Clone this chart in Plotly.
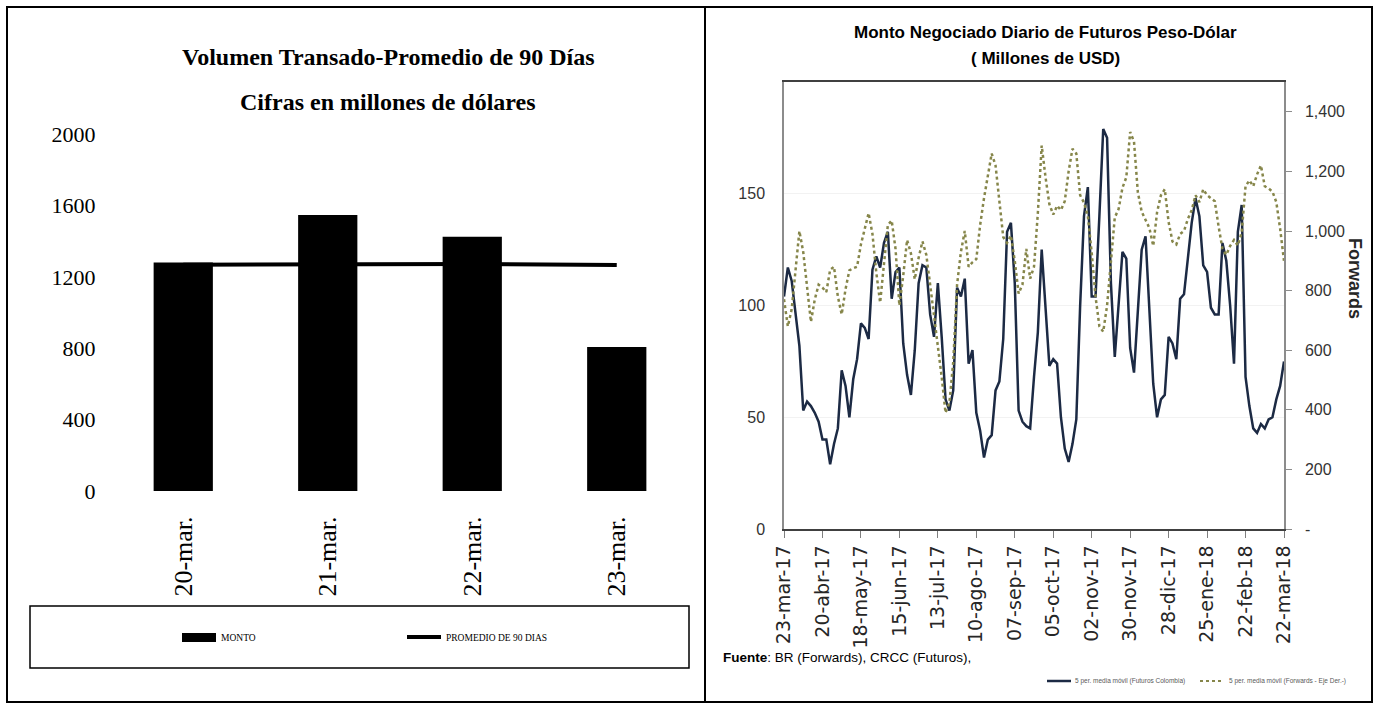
import pandas as pd
import plotly.graph_objects as go

W, H = 1378, 707

# ---- left chart data ----
dias = ["20-mar.", "21-mar.", "22-mar.", "23-mar."]
monto = [1280, 1546, 1425, 807]
promedio_90 = [1268, 1270, 1272, 1266]

# ---- right chart data (every 2nd business day, 23-mar-17 .. 22-mar-18) ----
futuros = [104, 117, 111, 95, 82, 53, 57, 55, 52, 48,
           40, 40, 29, 38, 45, 71, 64, 50, 67, 76,
           92, 90, 85, 116, 122, 117, 128, 133, 103, 115,
           117, 83, 69, 60, 80, 110, 118, 117, 96, 86,
           110, 86, 58, 53, 62, 108, 104, 112, 74, 80,
           52, 44, 32, 40, 42, 62, 66, 85, 133, 137,
           110, 53, 48, 46, 45, 68, 88, 125, 100, 73,
           76, 74, 50, 36, 30, 38, 49, 100, 140, 153,
           104, 104, 140, 179, 175, 110, 77, 103, 124, 121,
           81, 70, 100, 125, 131, 95, 65, 50, 58, 60,
           86, 83, 76, 103, 105, 121, 137, 148, 140, 118,
           115, 99, 96, 96, 128, 120, 100, 74, 133, 145,
           68, 55, 45, 43, 47, 45, 49, 50, 58, 64,
           75]
forwards = [771, 680, 737, 880, 1000, 930, 810, 695, 770, 820,
            810, 795, 870, 880, 780, 720, 805, 868, 875, 880,
            955, 1005, 1060, 990, 860, 760, 880, 1020, 1035, 940,
            750, 850, 970, 925, 838, 910, 965, 920, 820, 720,
            620, 510, 390, 423, 560, 820, 930, 1000, 880, 895,
            906, 1020, 1110, 1190, 1260, 1220, 1110, 980, 960, 985,
            900, 790, 820, 940, 840, 880, 1060, 1287, 1180, 1090,
            1055, 1085, 1070, 1100, 1200, 1276, 1260, 1120, 1095, 1050,
            928, 780, 680, 662, 750, 900, 1045, 1074, 1145, 1180,
            1332, 1300, 1130, 1065, 1038, 1010, 950, 1063, 1120, 1140,
            1030, 965, 955, 990, 1000, 1040, 1070, 1120, 1097, 1140,
            1120, 1110, 1100, 1015, 940, 920, 950, 970, 951, 996,
            1150, 1170, 1150, 1190, 1220, 1150, 1143, 1132, 1097, 1007,
            900]
meses = ["ene", "feb", "mar", "abr", "may", "jun",
         "jul", "ago", "sep", "oct", "nov", "dic"]
fwd_ticks = [0, 200, 400, 600, 800, 1000, 1200, 1400]
fwd_ticktext = ["-", "200", "400", "600", "800", "1,000", "1,200", "1,400"]

fechas = pd.bdate_range("2017-03-23", "2018-03-22")[::2]
x_fechas = [d.strftime("%Y-%m-%d") for d in fechas]
tick_idx = list(range(0, len(x_fechas), 10))
tick_text = [f"{fechas[i].day:02d}-{meses[fechas[i].month - 1]}-{fechas[i].strftime('%y')}"
             for i in tick_idx]


def px(x):
    return x / W


def py(y):
    return 1 - y / H


serif = "Liberation Serif, Times New Roman, serif"
sans = "Liberation Sans, Arial, sans-serif"

fig = go.Figure()

# left: bars + 90 day average
fig.add_trace(go.Bar(x=dias, y=monto, marker=dict(color="black", line=dict(width=0)),
                     width=0.41, xaxis="x", yaxis="y", showlegend=False))
fig.add_trace(go.Scatter(x=dias, y=promedio_90, mode="lines",
                         line=dict(color="black", width=4),
                         xaxis="x", yaxis="y", showlegend=False))

# right: futures (left axis) and forwards (right axis)
fig.add_trace(go.Scatter(x=x_fechas, y=futuros, mode="lines",
                         line=dict(color="#1c2a44", width=2.5),
                         xaxis="x2", yaxis="y2", showlegend=False))
fig.add_trace(go.Scatter(x=x_fechas, y=forwards, mode="lines",
                         line=dict(color="#86864a", width=2.5, dash="dot"),
                         xaxis="x2", yaxis="y3", showlegend=False))

fig.update_layout(
    width=W, height=H,
    margin=dict(l=0, r=0, t=0, b=0, autoexpand=False),
    paper_bgcolor="white", plot_bgcolor="white",
    xaxis=dict(domain=[px(111), px(689)], anchor="y", type="category", automargin=False,
               range=[-0.5, 3.5], showline=False, showgrid=False,
               tickangle=-90, ticks="outside", ticklen=14, tickcolor="rgba(0,0,0,0)",
               tickfont=dict(family=serif, size=26, color="black")),
    yaxis=dict(domain=[py(491), py(134)], anchor="x", range=[0, 2000], automargin=False,
               tickvals=[0, 400, 800, 1200, 1600, 2000],
               showline=False, showgrid=False, zeroline=False,
               ticks="outside", ticklen=10, tickcolor="rgba(0,0,0,0)",
               tickfont=dict(family=serif, size=22, color="black")),
    xaxis2=dict(domain=[px(784), px(1284)], anchor="y2", type="category", automargin=False,
                range=[0, len(x_fechas) - 1],
                tickvals=[x_fechas[i] for i in tick_idx], ticktext=tick_text,
                tickangle=-90, ticks="outside", ticklen=7, tickcolor="#7f7f7f",
                showline=True, linecolor="#404040", linewidth=1.5, mirror=True,
                showgrid=False,
                tickfont=dict(family="DejaVu Sans, sans-serif", size=19, color="#262626")),
    yaxis2=dict(domain=[py(529), py(82)], anchor="x2", range=[0, 200], automargin=False,
                tickvals=[0, 50, 100, 150],
                showline=True, linecolor="#8c8c8c", linewidth=1.5,
                showgrid=True, gridcolor="#f2f2f2", zeroline=False,
                ticks="", ticklabelstandoff=14,
                tickfont=dict(family=sans, size=16, color="#333333")),
    yaxis3=dict(overlaying="y2", side="right", anchor="x2", range=[0, 1500], automargin=False,
                tickvals=fwd_ticks, ticktext=fwd_ticktext,
                showline=True, linecolor="#8c8c8c", linewidth=1.5,
                showgrid=False, zeroline=False,
                ticks="outside", ticklen=6, tickcolor="#8c8c8c", ticklabelstandoff=10,
                tickfont=dict(family=sans, size=16, color="#333333")),
)

shapes = [
    # panel frames
    dict(type="rect", xref="paper", yref="paper", x0=px(7), x1=px(1372), y0=py(702), y1=py(7),
         line=dict(color="black", width=2)),
    dict(type="line", xref="paper", yref="paper", x0=px(705), x1=px(705), y0=py(702), y1=py(7),
         line=dict(color="black", width=2)),
    # left legend box and keys
    dict(type="rect", xref="paper", yref="paper", x0=px(30), x1=px(689), y0=py(668), y1=py(606),
         line=dict(color="black", width=1.5)),
    dict(type="rect", xref="paper", yref="paper", x0=px(182), x1=px(216), y0=py(642), y1=py(633),
         fillcolor="black", line=dict(width=0)),
    dict(type="line", xref="paper", yref="paper", x0=px(407), x1=px(441), y0=py(637), y1=py(637),
         line=dict(color="black", width=4)),
    # right legend keys
    dict(type="line", xref="paper", yref="paper", x0=px(1047), x1=px(1071), y0=py(681), y1=py(681),
         line=dict(color="#1c2a44", width=2.5)),
    dict(type="line", xref="paper", yref="paper", x0=px(1200), x1=px(1224), y0=py(681), y1=py(681),
         line=dict(color="#86864a", width=2, dash="dot")),
]

annotations = [
    dict(text="<b>Volumen Transado-Promedio de 90 Días</b>", x=px(388), y=py(57),
         font=dict(family=serif, size=24, color="black")),
    dict(text="<b>Cifras en millones de dólares</b>", x=px(388), y=py(102),
         font=dict(family=serif, size=24, color="black")),
    dict(text="MONTO", x=px(219), y=py(638), xanchor="left",
         font=dict(family=serif, size=9.5, color="black")),
    dict(text="PROMEDIO DE 90 DIAS", x=px(444), y=py(638), xanchor="left",
         font=dict(family=serif, size=9.5, color="black")),
    dict(text="<b>Monto Negociado Diario de Futuros Peso-Dólar</b>", x=px(1045), y=py(32),
         font=dict(family=sans, size=17, color="black")),
    dict(text="<b>( Millones de USD)</b>", x=px(1045), y=py(59),
         font=dict(family=sans, size=17, color="black")),
    dict(text="<b>Forwards</b>", x=px(1355), y=py(278), textangle=90,
         font=dict(family=sans, size=18, color="#262626")),
    dict(text="<b>Fuente</b>: BR (Forwards), CRCC (Futuros),", x=px(721), y=py(657), xanchor="left",
         font=dict(family=sans, size=13.5, color="black")),
    dict(text="5 per. media móvil (Futuros Colombia)", x=px(1073), y=py(681), xanchor="left",
         font=dict(family=sans, size=6.5, color="#595959")),
    dict(text="5 per. media móvil (Forwards - Eje Der.-)", x=px(1227), y=py(681), xanchor="left",
         font=dict(family=sans, size=6.5, color="#595959")),
]
for a in annotations:
    a.update(xref="paper", yref="paper", showarrow=False)
    a.setdefault("xanchor", "center")
    a.setdefault("yanchor", "middle")

fig.update_layout(shapes=shapes, annotations=annotations)

# drop the default page margin so the 1378x707 figure fills the window exactly
fig.write_html("out.html", config={"displayModeBar": False},
               post_script="document.body.style.margin='0';document.body.style.overflow='hidden';")
